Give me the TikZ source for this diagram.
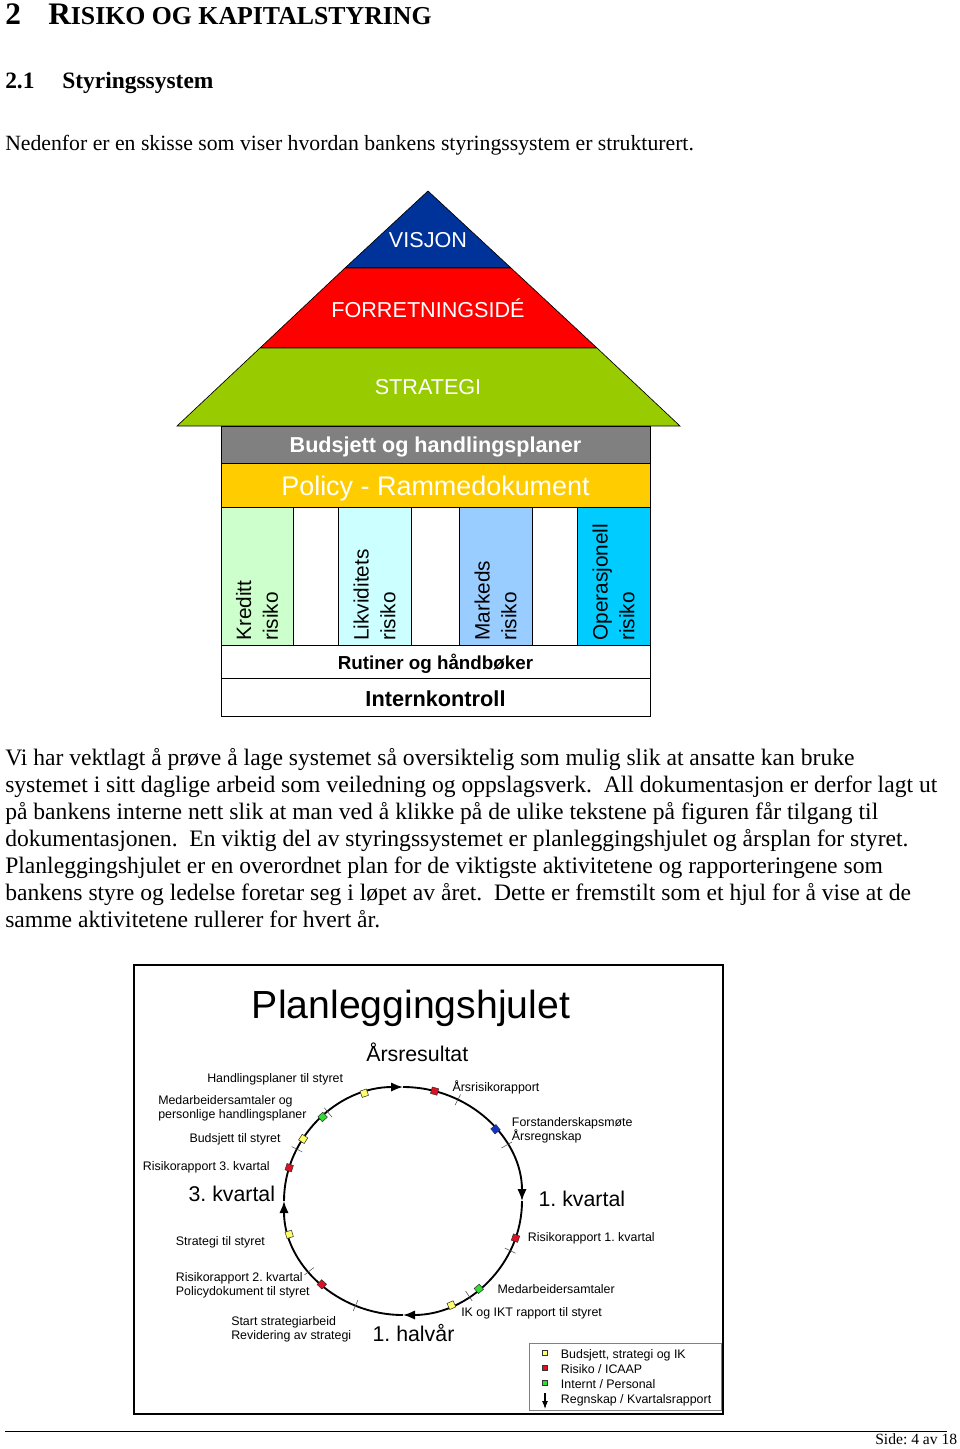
\documentclass[tikz,border=0pt]{standalone}
\usepackage{fontspec}
\setmainfont{Liberation Serif}
\setsansfont{Liberation Sans}
\usepackage{tikz}
\usetikzlibrary{arrows.meta,positioning}
\frenchspacing

\definecolor{visjonblue}{HTML}{003399}
\definecolor{ideered}{HTML}{FF0000}
\definecolor{strategigreen}{HTML}{99CC00}
\definecolor{budsjettgray}{HTML}{808080}
\definecolor{policyyellow}{HTML}{FFCC00}
\definecolor{kredittgreen}{HTML}{CCFFCC}
\definecolor{likvcyan}{HTML}{CCFFFF}
\definecolor{markedsblue}{HTML}{99CCFF}
\definecolor{operblue}{HTML}{00CCFF}
\definecolor{mkyellow}{HTML}{FFFF66}
\definecolor{mkred}{HTML}{DD1122}
\definecolor{mkgreen}{HTML}{33DD33}
\definecolor{mkblue}{HTML}{1133CC}

\tikzset{
    body/.style={anchor=base west, inner sep=0pt, font=\fontsize{16.3}{20}\selectfont},
    para/.style={body, font=\fontsize{17.7}{20.25}\selectfont},
    chapter/.style={anchor=base west, inner sep=0pt, font=\fontsize{23.5}{28}\selectfont\bfseries},
    section/.style={anchor=base west, inner sep=0pt, font=\fontsize{17.6}{21}\selectfont\bfseries},
    roof/.style={draw=black, line width=0.5pt},
    rooftext/.style={text=white, inner sep=0pt, font=\sffamily\fontsize{16.2}{19}\selectfont},
    floor/.style={draw=black, line width=0.75pt},
    floortext/.style={inner sep=0pt, font=\sffamily\bfseries\fontsize{16.2}{19}\selectfont},
    pillar/.style={rotate=90, anchor=west, inner sep=0pt, align=left,
        font=\sffamily\fontsize{15.6}{20}\selectfont},
    caption/.style={anchor=base west, inner sep=0pt, align=left,
        font=\sffamily\fontsize{9.3}{10.7}\selectfont},
    quarter/.style={anchor=base west, inner sep=0pt, font=\sffamily\fontsize{16}{19}\selectfont},
    wheel/.style={line width=1.4pt, -{Latex[length=9pt,width=7pt]}},
    tick/.style={line width=0.4pt, black!70},
    mk/.style={draw=black!80, line width=0.4pt, minimum size=5pt, inner sep=0pt, fill=#1},
    legendmk/.style={draw=black!80, line width=0.4pt, minimum size=4pt, inner sep=0pt, fill=#1},
}

\begin{document}
\begin{tikzpicture}[x=0.75pt, y=0.75pt]
  \useasboundingbox (0,0) rectangle (960,-1449);

  % Headings
  \node[chapter] (chapno) at (5,-24) {2};
  \node[chapter] (chaptitle) at (48,-24)
      {R\fontsize{19.35}{22}\selectfont ISIKO OG KAPITALSTYRING};
  \node[section] (secno) at (5,-88) {2.1};
  \node[section] (sectitle) at (62,-88) {Styringssystem};
  \node[body] (intro) at (5,-150)
      {Nedenfor er en skisse som viser hvordan bankens styringssystem er strukturert.};

  % Roof
  \filldraw[roof, fill=visjonblue] (428,-191) -- (511,-268) -- (345,-268) -- cycle;
  \filldraw[roof, fill=ideered] (345,-268) -- (511,-268) -- (597,-348) -- (260,-348) -- cycle;
  \filldraw[roof, fill=strategigreen] (260,-348) -- (597,-348) -- (680,-426) -- (177,-426) -- cycle;
  \node[rooftext] (visjon) at (428,-240) {VISJON};
  \node[rooftext] (forretningside) at (428,-308) {FORRETNINGSIDÉ};
  \node[rooftext] (strategi) at (428,-387) {STRATEGI};

  % Floors
  \filldraw[floor, fill=budsjettgray] (221,-426) rectangle (650,-463);
  \node[floortext, text=white] (budsjett) at (435.5,-446.5) {Budsjett og handlingsplaner};
  \filldraw[floor, fill=policyyellow] (221,-463) rectangle (650,-507);
  \node[floortext, text=white, font=\sffamily\fontsize{20.2}{24}\selectfont] (policy)
      at (435.5,-488.5) {Policy - Rammedokument};

  % Pillars
  \filldraw[floor, fill=kredittgreen] (221,-507) rectangle (293,-645);
  \filldraw[floor, fill=white] (293,-507) rectangle (338,-645);
  \filldraw[floor, fill=likvcyan] (338,-507) rectangle (411,-645);
  \filldraw[floor, fill=white] (411,-507) rectangle (459,-645);
  \filldraw[floor, fill=markedsblue] (459,-507) rectangle (532,-645);
  \filldraw[floor, fill=white] (532,-507) rectangle (577,-645);
  \filldraw[floor, fill=operblue] (577,-507) rectangle (650,-645);
  \node[pillar] (kreditt) at (257,-641) {Kreditt\\risiko};
  \node[pillar] (likviditet) at (374.5,-641) {Likviditets\\risiko};
  \node[pillar] (markeds) at (495.5,-641) {Markeds\\risiko};
  \node[pillar] (operasjonell) at (613.5,-641) {Operasjonell\\risiko};

  % Foundation
  \filldraw[floor, fill=white] (221,-645) rectangle (650,-678);
  \node[floortext, font=\sffamily\bfseries\fontsize{14.1}{17}\selectfont] (rutiner)
      at (435.5,-663.5) {Rutiner og håndbøker};
  \filldraw[floor, fill=white] (221,-678) rectangle (650,-716);
  \node[floortext, font=\sffamily\bfseries\fontsize{16.3}{19}\selectfont] (internkontroll)
      at (435.5,-699) {Internkontroll};

  % Paragraph
  \node[para] (p1) at (5,-765) {Vi har vektlagt å prøve å lage systemet så oversiktelig som mulig slik at ansatte kan bruke};
  \node[para] (p2) at (5,-792) {systemet i sitt daglige arbeid som veiledning og oppslagsverk.~ All dokumentasjon er derfor lagt ut};
  \node[para] (p3) at (5,-819) {på bankens interne nett slik at man ved å klikke på de ulike tekstene på figuren får tilgang til};
  \node[para] (p4) at (5,-846) {dokumentasjonen.~ En viktig del av styringssystemet er planleggingshjulet og årsplan for styret.};
  \node[para] (p5) at (5,-873) {Planleggingshjulet er en overordnet plan for de viktigste aktivitetene og rapporteringene som};
  \node[para] (p6) at (5,-900) {bankens styre og ledelse foretar seg i løpet av året.~ Dette er fremstilt som et hjul for å vise at de};
  \node[para] (p7) at (5,-927) {samme aktivitetene rullerer for hvert år.};

  % Planning wheel
  \draw[line width=1pt] (134,-965) rectangle (723,-1414);
  \node[inner sep=0pt, font=\sffamily\fontsize{29.4}{34}\selectfont] (hjul) at (411,-1008) {Planleggingshjulet};
  \node[quarter] (arsresultat) at (366,-1061.7) {Årsresultat};
  \node[quarter] (kv1) at (538.3,-1206.7) {1. kvartal};
  \node[quarter] (kv3) at (188.3,-1201.7) {3. kvartal};
  \node[quarter] (halvar) at (372.3,-1341.7) {1. halvår};

  \begin{scope}[shift={(403,-1201)}]
    \draw[wheel] (180:119 and 114) arc[start angle=180, end angle=90, x radius=119, y radius=114];
    \draw[wheel] (90:119 and 114) arc[start angle=90, end angle=0, x radius=119, y radius=114];
    \draw[wheel] (0:119 and 114) arc[start angle=0, end angle=-90, x radius=119, y radius=114];
    \draw[wheel] (-90:119 and 114) arc[start angle=-90, end angle=-180, x radius=119, y radius=114];
    \foreach \a in {29.4,62.6,129,153,218,246.5,303.6,334.2}
      \draw[tick] (\a:113 and 108) -- (\a:125 and 120);
    \node[mk=mkyellow, rotate=109] (hplan) at (109:119 and 114) {};
    \node[mk=mkred, rotate=74.6] (arsrisiko) at (74.6:119 and 114) {};
    \node[mk=mkblue, rotate=39] (forstander) at (39:119 and 114) {};
    \node[mk=mkred, rotate=-19] (risk1) at (-19:119 and 114) {};
    \node[mk=mkgreen, rotate=-50.4] (medarb) at (-50.4:119 and 114) {};
    \node[mk=mkyellow, rotate=-66] (ikt) at (-66:119 and 114) {};
    \node[mk=mkred, rotate=227] (risk2) at (227:119 and 114) {};
    \node[mk=mkyellow, rotate=197] (strat) at (197:119 and 114) {};
    \node[mk=mkred, rotate=163] (risk3) at (163:119 and 114) {};
    \node[mk=mkyellow, rotate=147] (budsj) at (147:119 and 114) {};
    \node[mk=mkgreen, rotate=132.5] (medper) at (132.5:119 and 114) {};
  \end{scope}

  % Captions round the wheel (base = last line)
  \node[caption] (hplantext) at (207,-1082.3) {Handlingsplaner til styret};
  \node[caption] (medpertext) at (158,-1118.8) {Medarbeidersamtaler og\\personlige handlingsplaner};
  \node[caption] (budsjtext) at (189.3,-1142.7) {Budsjett til styret};
  \node[caption] (risk3text) at (142.7,-1170) {Risikorapport 3. kvartal};
  \node[caption] (strattext) at (175.7,-1245) {Strategi til styret};
  \node[caption] (risk2text) at (175.7,-1295.7) {Risikorapport 2. kvartal\\Policydokument til styret};
  \node[caption] (starttext) at (231,-1339.3) {Start strategiarbeid\\Revidering av strategi};
  \node[caption] (arsrisikotext) at (452.3,-1091.7) {Årsrisikorapport};
  \node[caption] (forstandertext) at (511.7,-1140.7) {Forstanderskapsmøte\\Årsregnskap};
  \node[caption] (risk1text) at (527.7,-1241.7) {Risikorapport 1. kvartal};
  \node[caption] (medarbtext) at (497.3,-1293.3) {Medarbeidersamtaler};
  \node[caption] (innttext) at (461,-1316.7) {IK og IKT rapport til styret};

  % Legend
  \draw[draw=black!50, line width=0.75pt] (529,-1343) rectangle (721,-1410);
  \node[legendmk=mkyellow] (legyellow) at (545,-1352.7) {};
  \node[legendmk=mkred] (legred) at (545,-1367.7) {};
  \node[legendmk=mkgreen] (leggreen) at (545,-1382.7) {};
  \coordinate (legtop) at (545,-1393);
  \coordinate (legtip) at (545,-1409);
  \draw[line width=0.8pt, -{Latex[length=6pt,width=4.5pt]}] (legtop) -- (legtip);
  \node[caption] (legyellowtext) at (560.7,-1358.3) {Budsjett, strategi og IK};
  \node[caption] (legredtext) at (560.7,-1373.3) {Risiko / ICAAP};
  \node[caption] (leggreentext) at (560.7,-1388.3) {Internt / Personal};
  \node[caption] (legarrowtext) at (560.7,-1403.3) {Regnskap / Kvartalsrapport};

  % Footer
  \coordinate (ruleleft) at (5,-1431.5);
  \coordinate (ruleright) at (947,-1431.5);
  \draw[line width=0.75pt] (ruleleft) -- (ruleright);
  \node[body, font=\fontsize{11.7}{14}\selectfont] (side) at (875,-1444) {Side: 4 av 18};
\end{tikzpicture}
\end{document}
